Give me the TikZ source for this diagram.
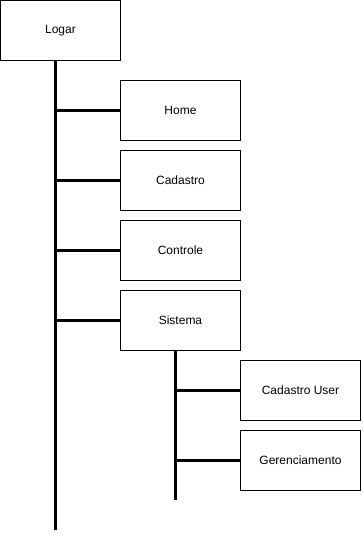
\documentclass[tikz,border=0pt]{standalone}
\usepackage{fontspec}
\setmainfont{Liberation Sans}
\begin{document}
\begin{tikzpicture}[x=1pt,y=-1pt,
  box/.style={draw=black,line width=1pt,fill=white,minimum width=120pt,minimum height=60pt,inner sep=0pt,font=\fontsize{12}{14}\selectfont},
  link/.style={draw=black,line width=3pt}]
  \useasboundingbox (0,0) rectangle (362,536);
  % free ends of the two trunks
  \coordinate (trunkEnd) at (55,530);
  \coordinate (subEnd) at (175,500);
  % menu boxes
  \node[box] (logar) at (60.5,30.5) {Logar};
  \node[box] (home) at (180.5,110) {Home};
  \node[box] (cadastro) at (180.5,180) {Cadastro};
  \node[box] (controle) at (180.5,250) {Controle};
  \node[box] (sistema) at (180.5,320) {Sistema};
  \node[box] (cuser) at (300.5,390) {Cadastro User};
  \node[box] (ger) at (300.5,460) {Gerenciamento};
  % main trunk and its branches
  \draw[link] (logar.south -| trunkEnd) -- (trunkEnd);
  \foreach \n in {home,cadastro,controle,sistema}
    \draw[link] (\n.west -| trunkEnd) -- (\n.west);
  % sub trunk under Sistema
  \draw[link] (sistema.south -| subEnd) -- (subEnd);
  \foreach \n in {cuser,ger}
    \draw[link] (\n.west -| subEnd) -- (\n.west);
\end{tikzpicture}
\end{document}
